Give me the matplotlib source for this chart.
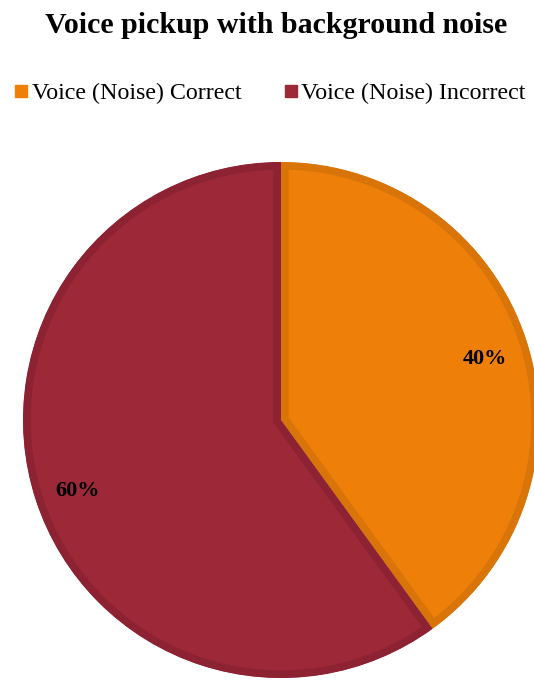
import matplotlib.pyplot as plt
from matplotlib.lines import Line2D

labels = ['Voice (Noise) Correct', 'Voice (Noise) Incorrect']
shares = [40, 60]
colors = ['#EE800A', '#9C2838']
edge_colors = ['#D87408', '#8C2232']

plt.rcParams['font.family'] = ['Liberation Serif', 'DejaVu Serif']

fig = plt.figure(figsize=(5.34, 6.8), dpi=100)

# pie area: centre (281, 420) px, radius 258 px
cx, cy, r = 281, 420, 258
W, H = 534, 680
ax = fig.add_axes([(cx - r) / W, (H - cy - r) / H, 2 * r / W, 2 * r / H])

wedges, texts, autotexts = ax.pie(
    shares, colors=colors, startangle=90, counterclock=False, radius=1,
    autopct='%d%%', pctdistance=0.83,
    textprops=dict(fontsize=16, fontweight='bold', color='black'))
ax.set_xlim(-1, 1)
ax.set_ylim(-1, 1)
ax.set_aspect('equal')
ax.axis('off')

# labels sit a little below the slice mid-line
for t in autotexts:
    x, y = t.get_position()
    t.set_position((x, y - 0.02))

# darker inner rim on each slice
for w, ec in zip(wedges, edge_colors):
    w.set_edgecolor(ec)
    w.set_linewidth(11)
    w.set_clip_path(w)
    w.set_clip_on(True)

fig.text(0.518, 0.963, 'Voice pickup with background noise', ha='center', va='center',
         fontsize=21.5, fontweight='bold')

handles = [Line2D([], [], marker='s', linestyle='none', markersize=9,
                  markerfacecolor=c, markeredgecolor=c) for c in colors]
fig.legend(handles, labels, loc='center', bbox_to_anchor=(0.505, 0.863), ncol=2,
           frameon=False, fontsize=17.3, handlelength=0.6, handletextpad=0.15,
           columnspacing=1.75)

fig.savefig('out.png', dpi=100)
